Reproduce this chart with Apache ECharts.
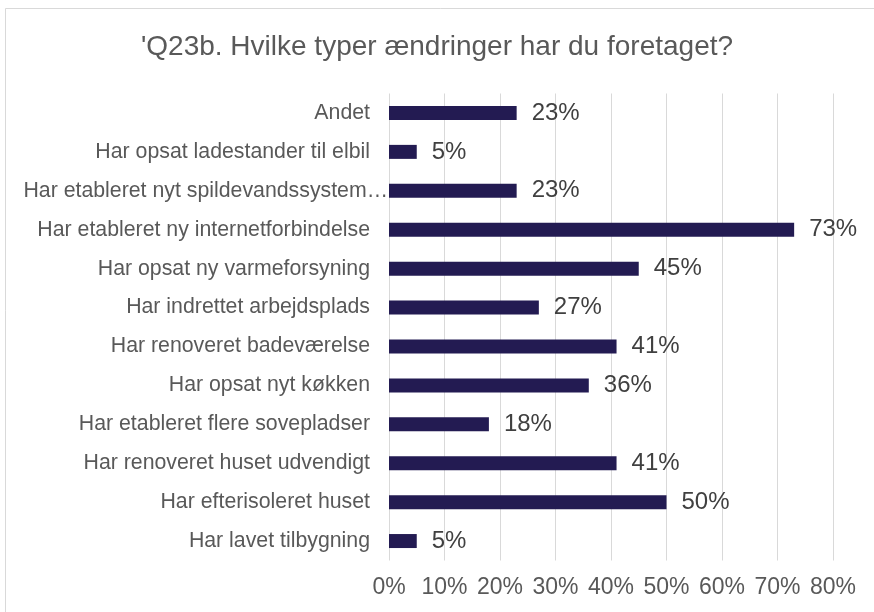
<!DOCTYPE html>
<html><head><meta charset="utf-8">
<script src="https://cdn.jsdelivr.net/npm/echarts@6/dist/echarts.min.js"></script>
<style>html,body{margin:0;padding:0;background:#fff}#c{width:874px;height:612px}</style>
</head><body><div id="c"></div>
<script>
var categories = ["Andet","Har opsat ladestander til elbil","Har etableret nyt spildevandssystem…","Har etableret ny internetforbindelse","Har opsat ny varmeforsyning","Har indrettet arbejdsplads","Har renoveret badeværelse","Har opsat nyt køkken","Har etableret flere sovepladser","Har renoveret huset udvendigt","Har efterisoleret huset","Har lavet tilbygning"];
var values = [23,5,23,73,45,27,41,36,18,41,50,5];
var tickLabels = ["0%","10%","20%","30%","40%","50%","60%","70%","80%"];
var catData = categories.map(function(c){
  if (c.charAt(c.length-1) === '…') return {value:c, textStyle:{padding:[0,-18,0,0]}};
  return c;
}).reverse();
var chart = echarts.init(document.getElementById('c'));
chart.setOption({
  backgroundColor:'#fff',
  animation:false,
  graphic:[{type:'rect',shape:{x:5.5,y:8.5,width:880,height:620},style:{fill:'none',stroke:'#d9d9d9',lineWidth:1}}],
  title:{text:"'Q23b. Hvilke typer ændringer har du foretaget?",left:'center',top:28,
    textStyle:{fontFamily:'Liberation Sans',fontSize:28,fontWeight:'normal',color:'#595959'}},
  grid:{left:389,right:41,top:93.5,bottom:51.5,containLabel:false},
  xAxis:{type:'value',min:0,max:80,interval:10,
    axisLine:{show:false},axisTick:{show:false},
    splitLine:{lineStyle:{color:'#d9d9d9',width:1}},
    axisLabel:{fontFamily:'Liberation Sans',fontSize:23,color:'#595959',margin:16,
      formatter:function(v){return tickLabels[Math.round(v/10)];}}},
  yAxis:{type:'category',data:catData,inverse:false,
    axisLine:{show:false},axisTick:{show:false},
    axisLabel:{fontFamily:'Liberation Sans',fontSize:21.3,color:'#595959',margin:19}},
  series:[{type:'bar',data:values.slice().reverse(),barWidth:14,
    itemStyle:{color:'#231b52'},
    label:{show:true,position:'right',distance:15,fontFamily:'Liberation Sans',fontSize:24,color:'#404040',
      formatter:function(p){return p.value+'%';}}}]
});
</script></body></html>
